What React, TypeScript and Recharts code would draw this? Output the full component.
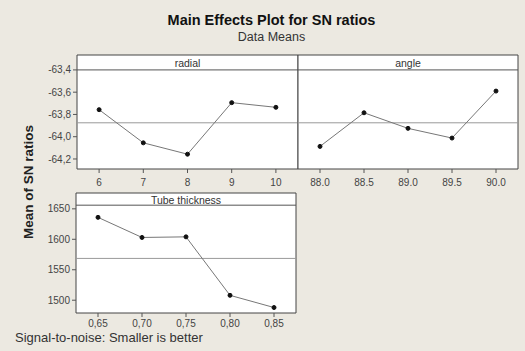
import React from 'react';
import {
  LineChart,
  Line,
  XAxis,
  YAxis,
  ReferenceLine,
  ReferenceArea,
} from 'recharts';

// values
const radialLevels = [6, 7, 8, 9, 10];
const radialSN = [-63.757, -64.055, -64.157, -63.694, -63.736];

const angleLevels = [88.0, 88.5, 89.0, 89.5, 90.0];
const angleSN = [-64.087, -63.785, -63.925, -64.012, -63.59];

const tubeLevels = [0.65, 0.7, 0.75, 0.8, 0.85];
const tubeSN = [1636, 1603, 1604, 1508, 1488];

const topTicks = [-63.4, -63.6, -63.8, -64.0, -64.2];
const tubeTicks = [1500, 1550, 1600, 1650];

const topMean = -63.875;
const tubeMean = 1568.6;

const FONT = '"Liberation Sans", Arial, sans-serif';
const BG = '#ECE9E1';
const LINE = '#555';

const topDomain: [number, number] = [-64.29, -63.266];
const tubeDomain: [number, number] = [1479, 1676];

const comma = (v: number, d: number) => v.toFixed(d).replace('.', ',');

const tickStyle = { fontSize: 10, fill: '#444', fontFamily: FONT };

const toRows = (xs: number[], ys: number[]) => xs.map((x, i) => ({ x, y: ys[i] }));

interface PanelProps {
  data: { x: number; y: number }[];
  xDomain: [number, number];
  xTicks: number[];
  xFormat: (v: number) => string;
  yDomain: [number, number];
  yTicks?: number[];
  yFormat?: (v: number) => string;
  headerY: number;
  meanY: number;
  title: string;
  width: number;
  height: number;
  margin: { top: number; right: number; bottom: number; left: number };
  yWidth: number;
  xHeight: number;
  xGap: number;
  showY: boolean;
}

const Panel: React.FC<PanelProps> = (p) => (
  <LineChart width={p.width} height={p.height} data={p.data} margin={p.margin}>
    <XAxis
      dataKey="x"
      type="number"
      domain={p.xDomain}
      ticks={p.xTicks}
      tickFormatter={p.xFormat}
      allowDataOverflow
      axisLine={false}
      tickLine={{ stroke: LINE }}
      tickSize={4}
      tickMargin={p.xGap}
      height={p.xHeight}
      tick={tickStyle}
      interval={0}
    />
    <YAxis
      type="number"
      domain={p.yDomain}
      ticks={p.yTicks}
      tickFormatter={p.yFormat}
      allowDataOverflow
      hide={!p.showY}
      width={p.yWidth}
      axisLine={false}
      tickLine={{ stroke: LINE }}
      tickSize={4}
      tick={tickStyle}
      interval={0}
    />
    <ReferenceArea
      x1={p.xDomain[0]}
      x2={p.xDomain[1]}
      y1={p.yDomain[0]}
      y2={p.yDomain[1]}
      fill="#fff"
      fillOpacity={1}
      stroke="#444"
      strokeWidth={1}
      ifOverflow="visible"
    />
    <ReferenceArea
      x1={p.xDomain[0]}
      x2={p.xDomain[1]}
      y1={p.headerY}
      y2={p.yDomain[1]}
      fill="#fff"
      fillOpacity={0}
      stroke="none"
      ifOverflow="visible"
      label={{ value: p.title, position: 'center', dy: 1, fontSize: 10.5, fill: '#333', fontFamily: FONT }}
    />
    <ReferenceLine y={p.headerY} stroke={LINE} strokeWidth={1} />
    <ReferenceLine y={p.meanY} stroke="#999" strokeWidth={1} />
    <Line
      dataKey="y"
      stroke="#777"
      strokeWidth={1}
      dot={{ r: 2, fill: '#111', stroke: '#111' }}
      isAnimationActive={false}
    />
  </LineChart>
);

export default function App() {
  return (
    <div
      style={{
        position: 'absolute',
        left: 0,
        top: 0,
        width: 525,
        height: 351,
        background: BG,
        fontFamily: FONT,
        overflow: 'hidden',
      }}
    >
      <div style={{ position: 'absolute', left: 9, width: 525, top: 12, textAlign: 'center', fontWeight: 'bold', fontSize: 14.5, color: '#111' }}>
        Main Effects Plot for SN ratios
      </div>
      <div style={{ position: 'absolute', left: 9, width: 525, top: 30, textAlign: 'center', fontSize: 12.5, color: '#333' }}>
        Data Means
      </div>
      <div
        style={{
          position: 'absolute',
          left: 28,
          top: 182,
          transform: 'translate(-50%, -50%) rotate(-90deg)',
          fontWeight: 'bold',
          fontSize: 13.5,
          color: '#222',
          whiteSpace: 'nowrap',
        }}
      >
        Mean of SN ratios
      </div>

      <div style={{ position: 'absolute', left: 0, top: 40 }}>
        <Panel
          data={toRows(radialLevels, radialSN)}
          xDomain={[5.5, 10.5]}
          xTicks={radialLevels}
          xFormat={(v) => String(v)}
          yDomain={topDomain}
          yTicks={topTicks}
          yFormat={(v) => comma(v, 1)}
          headerY={-63.4}
          meanY={topMean}
          title="radial"
          width={310}
          height={160}
          margin={{ top: 15, right: 12, bottom: 0, left: 0 }}
          yWidth={77}
          xHeight={31}
          xGap={6}
          showY
        />
      </div>

      <div style={{ position: 'absolute', left: 290, top: 40 }}>
        <Panel
          data={toRows(angleLevels, angleSN)}
          xDomain={[87.75, 90.25]}
          xTicks={angleLevels}
          xFormat={(v) => v.toFixed(1)}
          yDomain={topDomain}
          headerY={-63.4}
          meanY={topMean}
          title="angle"
          width={235}
          height={160}
          margin={{ top: 15, right: 7, bottom: 0, left: 8 }}
          yWidth={0}
          xHeight={31}
          xGap={6}
          showY={false}
        />
      </div>

      <div style={{ position: 'absolute', left: 0, top: 180 }}>
        <Panel
          data={toRows(tubeLevels, tubeSN)}
          xDomain={[0.625, 0.875]}
          xTicks={tubeLevels}
          xFormat={(v) => comma(v, 2)}
          yDomain={tubeDomain}
          yTicks={tubeTicks}
          yFormat={(v) => String(v)}
          headerY={1656}
          meanY={tubeMean}
          title="Tube thickness"
          width={310}
          height={160}
          margin={{ top: 13, right: 14, bottom: 0, left: 0 }}
          yWidth={76}
          xHeight={27}
          xGap={3}
          showY
        />
      </div>

      <div style={{ position: 'absolute', left: 15, top: 330, fontSize: 13, color: '#333' }}>
        Signal-to-noise: Smaller is better
      </div>
    </div>
  );
}
